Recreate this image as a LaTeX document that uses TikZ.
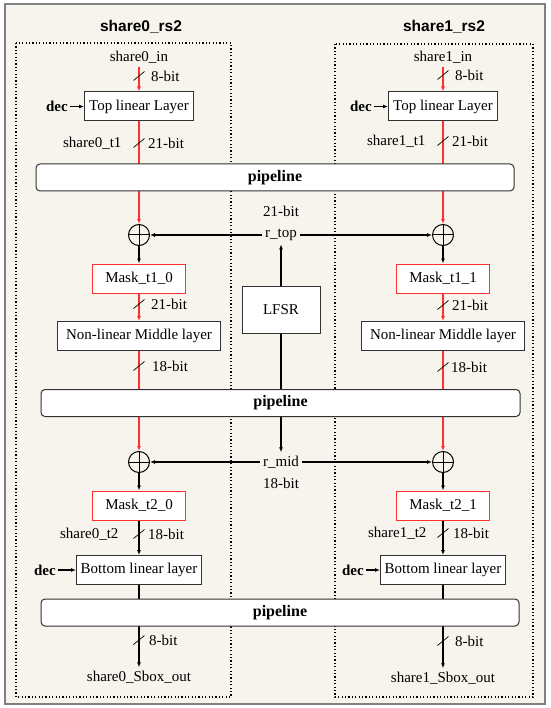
\documentclass[tikz,border=0pt]{standalone}
\usepackage{fontspec}
\setmainfont{Liberation Serif}
\setsansfont{Liberation Sans}
\usetikzlibrary{arrows.meta, positioning, calc}

\definecolor{framebg}{RGB}{246,244,236}
\definecolor{framegray}{RGB}{128,128,128}
\definecolor{wirered}{RGB}{255,48,48}
\definecolor{boxgray}{RGB}{50,50,50}

\pgfdeclarelayer{bg}
\pgfdeclarelayer{wires}
\pgfsetlayers{bg,wires,main}

% bus width mark: slash on the wire plus its label
\newcommand{\bitmark}[3]{%
  \draw[black, line width=0.7pt] ($(#1)+(-5.5,4.5)$) -- ($(#1)+(5.5,-4.5)$);
  \node[anchor=west, inner sep=0pt] at ($(#1)+(#2,0)$) {#3};}

\begin{document}
\begin{tikzpicture}[x=1pt, y=-1pt,
    every node/.style={font=\fontsize{15}{17}\selectfont},
    layerbox/.style={rectangle, draw=boxgray, line width=1pt, fill=white, minimum height=29pt, inner sep=2pt},
    maskbox/.style={rectangle, draw=wirered, line width=1pt, fill=white, minimum width=93pt, minimum height=29pt},
    pipebox/.style={rectangle, draw=boxgray, line width=1pt, fill=white, rounded corners=4pt, minimum height=27pt,
        font=\fontsize{16}{18}\selectfont\bfseries},
    xorgate/.style={circle, draw=black, line width=1pt, minimum size=21pt, inner sep=0pt,
        path picture={\draw[line width=1pt] (path picture bounding box.north) -- (path picture bounding box.south)
                            (path picture bounding box.west) -- (path picture bounding box.east);}},
    redwire/.style={draw=wirered, line width=1.1pt, -{Latex[length=5pt,width=4pt]}},
    blackwire/.style={draw=black, line width=1.1pt, -{Latex[length=5pt,width=4pt]}},
    decin/.style={font=\fontsize{15}{17}\selectfont\bfseries, inner sep=2pt},
    title/.style={font=\fontsize{15.5}{18}\selectfont\sffamily\bfseries}]
    \useasboundingbox (0,0) rectangle (550,708);

    % frame and share regions
    \begin{pgfonlayer}{bg}
        \fill[white] (0,0) rectangle (550,708);
        \draw[framegray, fill=framebg, line width=1.3pt] (5,4) rectangle (545,704);
        \draw[dash pattern=on 1.2pt off 2.2pt, line width=1.2pt] (16,43) rectangle (231,697);
        \draw[dash pattern=on 1.2pt off 2.2pt, line width=1.2pt] (335,44) rectangle (533,697);
    \end{pgfonlayer}

    \node[title] (t0) at (141,27) {share0\_rs2};
    \node[title] (t1) at (444,27) {share1\_rs2};

    % share 0
    \node (in0) at (139,57) {share0\_in};
    \node[layerbox, minimum width=109pt] (tl0) at (139,106.5) {Top linear Layer};
    \node[decin, left=14pt of tl0] (dec0) {dec};
    \node[xorgate] (x0) at (139,235) {};
    \node[maskbox] (m10) at (139,278.5) {Mask\_t1\_0};
    \node[layerbox, minimum width=163pt] (nl0) at (139,336) {Non-linear Middle layer};
    \node[xorgate] (x20) at (139,462) {};
    \node[maskbox] (m20) at (139,505.5) {Mask\_t2\_0};
    \node[layerbox, minimum width=125pt] (bl0) at (139,570) {Bottom linear layer};
    \node[decin, left=18pt of bl0] (dec2) {dec};
    \node (out0) at (139,677) {share0\_Sbox\_out};

    % share 1
    \node (in1) at (443,57) {share1\_in};
    \node[layerbox, minimum width=109pt] (tl1) at (443,106.5) {Top linear Layer};
    \node[decin, left=14pt of tl1] (dec1) {dec};
    \node[xorgate] (x1) at (443,235) {};
    \node[maskbox] (m11) at (443,278.5) {Mask\_t1\_1};
    \node[layerbox, minimum width=163pt] (nl1) at (443,336) {Non-linear Middle layer};
    \node[xorgate] (x21) at (443,462) {};
    \node[maskbox] (m21) at (443,505.5) {Mask\_t2\_1};
    \node[layerbox, minimum width=125pt] (bl1) at (443,570) {Bottom linear layer};
    \node[decin, left=14pt of bl1] (dec3) {dec};
    \node (out1) at (443,678) {share1\_Sbox\_out};

    % random source
    \node[layerbox, minimum width=78pt, minimum height=47pt] (lfsr) at (281,309.5) {LFSR};
    \node (rtop) at (281,235) {r\_top};
    \node (rmid) at (281,462) {r\_mid};
    \node (wtop) at (281,211) {21-bit};
    \node (wmid) at (281,483) {18-bit};

    % pipeline registers
    \node[pipebox, minimum width=478pt] (pipe1) at (275,177.5) {pipeline};
    \node[pipebox, minimum width=479pt] (pipe2) at (280.5,403) {pipeline};
    \node[pipebox, minimum width=478pt] (pipe3) at (280,612.5) {pipeline};

    \begin{pgfonlayer}{wires}
        \draw[redwire] (in0) -- (tl0);
        \draw[redwire] (tl0) -- (x0);
        \draw[blackwire] (x0) -- (m10);
        \draw[redwire] (m10) -- (nl0);
        \draw[redwire] (nl0) -- (x20);
        \draw[blackwire] (x20) -- (m20);
        \draw[blackwire] (m20) -- (bl0);
        \draw[blackwire] (bl0) -- (out0);

        \draw[redwire] (in1) -- (tl1);
        \draw[redwire] (tl1) -- (x1);
        \draw[blackwire] (x1) -- (m11);
        \draw[redwire] (m11) -- (nl1);
        \draw[redwire] (nl1) -- (x21);
        \draw[blackwire] (x21) -- (m21);
        \draw[blackwire] (m21) -- (bl1);
        \draw[blackwire] (bl1) -- (out1);

        \draw[blackwire] (lfsr) -- (rtop);
        \draw[blackwire] (lfsr) -- (rmid);
    \end{pgfonlayer}

    \draw[blackwire] (rtop) -- (x0);
    \draw[blackwire] (rtop) -- (x1);
    \draw[blackwire] (rmid) -- (x20);
    \draw[blackwire] (rmid) -- (x21);
    \draw[blackwire] (dec0) -- (tl0);
    \draw[blackwire] (dec1) -- (tl1);
    \draw[blackwire] (dec2) -- (bl0);
    \draw[blackwire] (dec3) -- (bl1);

    \node[anchor=east] (lt0) at (125,143) {share0\_t1};
    \node[anchor=east] (lt1) at (429,141) {share1\_t1};
    \node[anchor=east] (lt2) at (122,534) {share0\_t2};
    \node[anchor=east] (lt3) at (430,533) {share1\_t2};

    \bitmark{139,76}{12}{8-bit}
    \bitmark{139,143}{9}{21-bit}
    \bitmark{139,304}{12}{21-bit}
    \bitmark{139,366}{13}{18-bit}
    \bitmark{139,534}{9}{18-bit}
    \bitmark{139,640}{10}{8-bit}

    \bitmark{443,75}{12}{8-bit}
    \bitmark{443,141}{9}{21-bit}
    \bitmark{443,305}{9}{21-bit}
    \bitmark{443,367}{8}{18-bit}
    \bitmark{443,533}{10}{18-bit}
    \bitmark{443,641}{12}{8-bit}
\end{tikzpicture}
\end{document}
